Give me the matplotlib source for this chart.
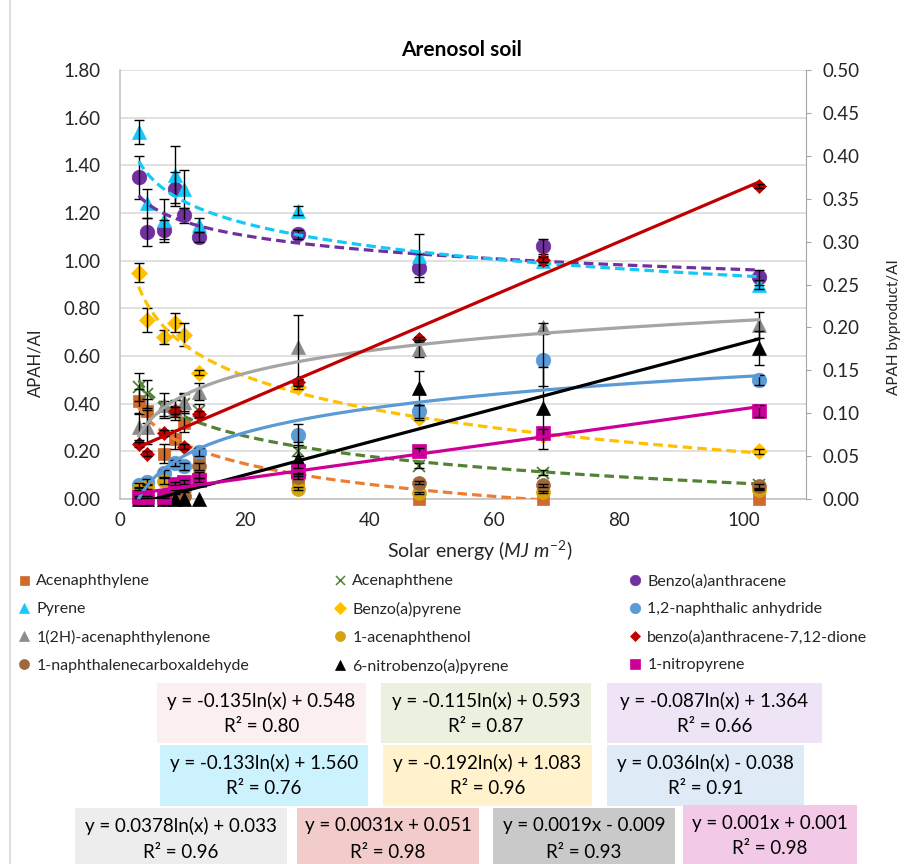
import matplotlib
matplotlib.use('Agg')
import matplotlib.pyplot as plt
import numpy as np
from matplotlib.lines import Line2D
from matplotlib.patches import Rectangle

plt.rcParams['font.family'] = ['Lato', 'DejaVu Sans']
plt.rcParams['mathtext.fontset'] = 'custom'
plt.rcParams['mathtext.rm'] = 'Lato'
plt.rcParams['mathtext.it'] = 'Lato:italic'

W, H = 906, 864

# solar energy (MJ m-2)
energy = [3.0, 4.4, 7.0, 8.8, 10.3, 12.6, 28.5, 48.0, 67.8, 102.4]

# APAH/AI  (left axis)
acenaphthylene = [0.41, 0.37, 0.19, 0.25, 0.32, 0.17, 0.06, 0.0, 0.0, 0.0]
acenaphthylene_err = [0.05, 0.05, 0.04, 0.04, 0.04, 0.03, 0.02, 0, 0, 0]
acenaphthene = [0.47, 0.44, 0.38, 0.36, 0.40, 0.37, 0.20, 0.14, 0.11, 0.06]
acenaphthene_err = [0.06, 0.06, 0.03, 0.03, 0.04, 0.03, 0.02, 0.01, 0.01, 0.01]
benzo_a_anthracene = [1.35, 1.12, 1.13, 1.30, 1.19, 1.10, 1.11, 0.97, 1.06, 0.93]
benzo_a_anthracene_err = [0.09, 0.06, 0.04, 0.07, 0.03, 0.02, 0.02, 0.06, 0.03, 0.03]
pyrene = [1.54, 1.24, 1.17, 1.36, 1.30, 1.15, 1.21, 1.02, 1.00, 0.90]
pyrene_err = [0.05, 0.06, 0.09, 0.12, 0.08, 0.03, 0.02, 0.09, 0.02, 0.02]
benzo_a_pyrene = [0.95, 0.75, 0.68, 0.74, 0.69, 0.53, 0.47, 0.34, 0.27, 0.20]
benzo_a_pyrene_err = [0.04, 0.05, 0.03, 0.04, 0.05, 0.01, 0.01, 0.01, 0.01, 0.01]

# APAH byproduct/AI  (right axis)
naphthalic_anhydride = [0.016, 0.020, 0.030, 0.042, 0.038, 0.055, 0.075, 0.102, 0.162, 0.139]
naphthalic_anhydride_err = [0.003, 0.003, 0.004, 0.004, 0.004, 0.005, 0.012, 0.008, 0.030, 0.006]
acenaphthylenone = [0.084, 0.084, 0.109, 0.105, 0.113, 0.125, 0.177, 0.175, 0.200, 0.203]
acenaphthylenone_err = [0.015, 0.020, 0.015, 0.010, 0.010, 0.010, 0.037, 0.010, 0.005, 0.015]
acenaphthenol = [0.012, 0.014, 0.021, 0.008, 0.010, 0.028, 0.012, 0.007, 0.008, 0.011]
acenaphthenol_err = [0.002, 0.002, 0.003, 0.002, 0.002, 0.003, 0.002, 0.001, 0.001, 0.001]
dione = [0.064, 0.053, 0.077, 0.103, 0.061, 0.099, 0.136, 0.186, 0.279, 0.365]
dione_err = [0.003, 0.003, 0.004, 0.004, 0.003, 0.004, 0.004, 0.003, 0.003, 0.002]
carboxaldehyde = [0.0, 0.0, 0.0, 0.002, 0.004, 0.038, 0.026, 0.019, 0.016, 0.015]
carboxaldehyde_err = [0, 0, 0, 0, 0, 0.004, 0.003, 0.002, 0.002, 0.002]
nitrobenzo_a_pyrene = [0.0, 0.0, 0.0, 0.0, 0.0, 0.0, 0.047, 0.129, 0.106, 0.176]
nitrobenzo_a_pyrene_err = [0, 0, 0, 0, 0, 0, 0.02, 0.02, 0.048, 0.02]
nitropyrene = [0.002, 0.002, 0.002, 0.018, 0.020, 0.022, 0.033, 0.056, 0.077, 0.102]
nitropyrene_err = [0.001, 0.001, 0.001, 0.002, 0.002, 0.002, 0.003, 0.004, 0.005, 0.007]

names = ['Acenaphthylene', 'Acenaphthene', 'Benzo(a)anthracene', 'Pyrene',
         'Benzo(a)pyrene', '1,2-naphthalic anhydride', '1(2H)-acenaphthylenone',
         '1-acenaphthenol', 'benzo(a)anthracene-7,12-dione',
         '1-naphthalenecarboxaldehyde', '6-nitrobenzo(a)pyrene', '1-nitropyrene']

# trendline type per series (None = no trendline) and the labels shown on the chart
fit_kind = ['log', 'log', 'log', 'log', 'log', 'log', 'log', None, 'lin', None, 'lin', 'lin']
eq_labels = ['y = -0.135ln(x) + 0.548', 'y = -0.115ln(x) + 0.593', 'y = -0.087ln(x) + 1.364',
             'y = -0.133ln(x) + 1.560', 'y = -0.192ln(x) + 1.083', 'y = 0.036ln(x) - 0.038',
             'y = 0.0378ln(x) + 0.033', 'y = 0.0031x + 0.051', 'y = 0.0019x - 0.009',
             'y = 0.001x + 0.001']
r2_labels = ['0.80', '0.87', '0.66', '0.76', '0.96', '0.91', '0.96', '0.98', '0.93', '0.98']

values = [acenaphthylene, acenaphthene, benzo_a_anthracene, pyrene, benzo_a_pyrene,
          naphthalic_anhydride, acenaphthylenone, acenaphthenol, dione,
          carboxaldehyde, nitrobenzo_a_pyrene, nitropyrene]
errors = [acenaphthylene_err, acenaphthene_err, benzo_a_anthracene_err, pyrene_err,
          benzo_a_pyrene_err, naphthalic_anhydride_err, acenaphthylenone_err,
          acenaphthenol_err, dione_err, carboxaldehyde_err, nitrobenzo_a_pyrene_err,
          nitropyrene_err]
secondary = [False] * 5 + [True] * 7

markers = ['s', 'x', 'o', '^', 'D', 'o', '^', 'o', 'D', 'o', '^', 's']
msizes = [9, 9, 10.5, 10, 8.5, 10.5, 10, 10, 7.5, 10, 10, 9.5]
mcolors = ['#CF6A2C', '#548235', '#7030A0', '#14C8F7', '#FFC000', '#5B9BD5', '#8C8C8C',
           '#D4A20A', '#C00000', '#A0673A', '#000000', '#CC0099']
lcolors = ['#ED7D31', '#548235', '#7030A0', '#14C8F7', '#FFC000', '#5B9BD5', '#A5A5A5',
           None, '#C00000', None, '#000000', '#CC0099']
dashed = [True] * 5 + [False] * 7

fig = plt.figure(figsize=(W / 100, H / 100), dpi=100)


def fx(px):
    return px / W


def fy(py):
    return 1 - py / H


ax = fig.add_axes([fx(120), fy(499), fx(806) - fx(120), fy(70) - fy(499)])
ax2 = ax.twinx()

x = np.array(energy)
xfit = np.linspace(x[0], x[-1], 300)

for i in range(len(names)):
    a = ax2 if secondary[i] else ax
    y = np.array(values[i])
    e = np.array(errors[i])
    c = mcolors[i]
    a.plot(x, y, linestyle='none', marker=markers[i], ms=msizes[i], color=c,
           mec=c, mew=1.3 if markers[i] == 'x' else 0.5, zorder=3, clip_on=False)
    m = e > 0
    a.errorbar(x[m], y[m], yerr=e[m], fmt='none', ecolor='black', elinewidth=1,
               capsize=3.5, capthick=1, zorder=4, clip_on=False)

# least-squares trendlines, like the spreadsheet does
for i in range(len(names)):
    if fit_kind[i] is None:
        continue
    a = ax2 if secondary[i] else ax
    y = np.array(values[i])
    if fit_kind[i] == 'log':
        k, b = np.polyfit(np.log(x), y, 1)
        yfit = k * np.log(xfit) + b
    else:
        k, b = np.polyfit(x, y, 1)
        yfit = k * xfit + b
    ls = (0, (3, 1.6)) if dashed[i] else '-'
    a.plot(xfit, yfit, color=lcolors[i], lw=2.3, linestyle=ls, zorder=5)

ax.set_xlim(0, 110)
ax.set_ylim(0, 1.8)
ax2.set_ylim(0, 0.5)
ax.set_xticks(np.arange(0, 101, 20))
ax.set_yticks(np.arange(0, 1.81, 0.2))
ax2.set_yticks(np.arange(0, 0.501, 0.05))
ax.yaxis.set_major_formatter(matplotlib.ticker.FormatStrFormatter('%.2f'))
ax2.yaxis.set_major_formatter(matplotlib.ticker.FormatStrFormatter('%.2f'))
ax.grid(axis='y', color='#D9D9D9', lw=1.1)
ax.set_axisbelow(True)
ax.tick_params(axis='y', length=0, labelsize=13.5, pad=14, colors='#262626')
ax.tick_params(axis='x', length=0, labelsize=13.5, pad=9, colors='#262626')
ax2.tick_params(axis='y', length=3.6, color='#A6A6A6', labelsize=13.5, pad=8.5,
                labelcolor='#262626')
for s in ['top', 'right']:
    ax.spines[s].set_visible(False)
for s in ['top', 'left', 'bottom']:
    ax2.spines[s].set_visible(False)
ax.spines['left'].set_color('#BFBFBF')
ax.spines['bottom'].set_color('#BFBFBF')
ax2.spines['right'].set_color('#A6A6A6')
ax.spines['left'].set_linewidth(1.1)
ax.spines['bottom'].set_linewidth(1.1)

fig.text(fx(462), fy(50), 'Arenosol soil', ha='center', va='center',
         fontsize=15, fontweight='bold', color='black')
fig.text(fx(480), fy(551), r'Solar energy ($\mathit{MJ\ m}^{\mathit{-2}}$)',
         ha='center', va='center', fontsize=14, color='#262626')
fig.text(fx(35), fy(363), 'APAH/AI', rotation=90, ha='center', va='center',
         fontsize=12, color='#262626')
fig.text(fx(887), fy(327), 'APAH byproduct/AI', rotation=90, ha='left', va='center',
         fontsize=11, color='#262626')

# outer chart border
fig.add_artist(Line2D([fx(10), fx(10)], [0, 1], color='#D9D9D9', lw=1.2))

# legend: three columns, filled row by row
col_x = [18, 334, 629]
for c in range(3):
    handles = []
    labels = []
    for r in range(4):
        i = r * 3 + c
        handles.append(Line2D([], [], linestyle='none', marker=markers[i],
                              ms=msizes[i] * 0.72, color=mcolors[i], mec=mcolors[i],
                              mew=1.1 if markers[i] == 'x' else 0.5))
        labels.append(names[i])
    fig.legend(handles, labels, loc='upper left',
               bbox_to_anchor=(fx(col_x[c]), fy(574)), frameon=False,
               fontsize=11.5, handlelength=0.8, handletextpad=0.35,
               labelspacing=0.86, borderaxespad=0, borderpad=0,
               labelcolor='#262626')

# trendline equation boxes
box_rects = [(157, 683, 366, 743), (381, 683, 591, 743), (607, 683, 822, 743),
             (160, 745, 368, 806), (383, 745, 592, 806), (607, 745, 804, 806),
             (75, 808, 287, 868), (297, 808, 479, 868), (493, 808, 675, 868),
             (683, 805, 857, 868)]
box_colors = ['#FBEFEF', '#EBF1DE', '#EFE4F6', '#CCF2FD', '#FFF2CC', '#DEEAF6',
              '#EDEDED', '#F2CBCB', '#C9C9C9', '#F3C9E8']
for k in range(len(eq_labels)):
    x0, y0, x1, y1 = box_rects[k]
    fig.add_artist(Rectangle((fx(x0), fy(y1)), fx(x1) - fx(x0), fy(y0) - fy(y1),
                             facecolor=box_colors[k], edgecolor='none'))
    cx = (x0 + x1) / 2
    fig.text(fx(cx), fy(y0 + 18), eq_labels[k], ha='center', va='center',
             fontsize=13.5, color='black')
    fig.text(fx(cx), fy(y0 + 44), 'R² = ' + r2_labels[k], ha='center', va='center',
             fontsize=13.5, color='black')

fig.savefig('out.png', dpi=100)
